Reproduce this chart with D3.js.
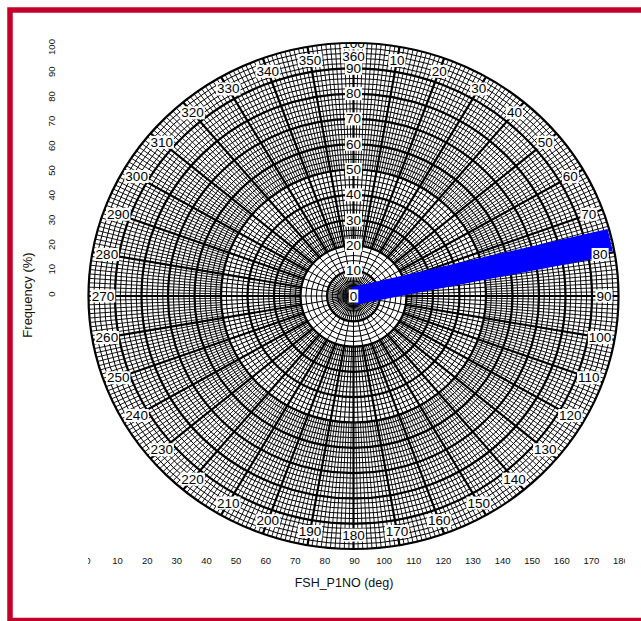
<!DOCTYPE html>
<html><head><meta charset="utf-8">
<script src="https://cdn.jsdelivr.net/npm/d3@7"></script>
<style>body{margin:0;background:#fff}svg{display:block}</style>
</head><body>
<script>
// ---- data ----
const radialTicks = [0,10,20,30,40,50,60,70,80,90,100];
const angleTicks = [10,20,30,40,50,60,70,80,90,100,110,120,130,140,150,160,170,180,190,200,210,220,230,240,250,260,270,280,290,300,310,320,330,340,350,360];
const xAxisTicks = [0,10,20,30,40,50,60,70,80,90,100,110,120,130,140,150,160,170,180];
const yAxisTicks = [0,10,20,30,40,50,60,70,80,90,100];
const binStart = [76.6,77.6];
const binEnd   = [77.6,78.6];
const binFreq  = [96,94];
const xTitle = "FSH_P1NO (deg)";
const yTitle = "Frequency (%)";

// ---- layout ----
const W = 641, H = 621;
const cx = 353.5, cy = 296, Ry = 253, Rx = 265;
const svg = d3.select('body').append('svg').attr('width', W).attr('height', H)
  .style('font-family', '"Liberation Sans", Arial, sans-serif');
svg.append('rect').attr('width', W).attr('height', H).attr('fill', '#fff');

// background cartesian axes (faint)
const xS = d3.scaleLinear().domain([0,180]).range([88,621]);
const yS = d3.scaleLinear().domain([0,100]).range([294,47]);
const defs = svg.append('defs');
defs.append('clipPath').attr('id','xclip').append('rect').attr('x',88).attr('y',540).attr('width',537).attr('height',40);
defs.append('clipPath').attr('id','topclip').append('rect').attr('x',0).attr('y',44).attr('width',W).attr('height',H);

svg.append('g').attr('clip-path','url(#xclip)').selectAll('text').data(xAxisTicks).join('text')
  .attr('x', d => xS(d)).attr('y', 563.5).attr('text-anchor','middle')
  .attr('font-size', 9.5).attr('fill', '#111').text(d => d);
svg.append('g').selectAll('text').data(yAxisTicks).join('text')
  .attr('transform', d => `translate(55,${yS(d)}) rotate(-90)`).attr('text-anchor','middle')
  .attr('font-size', 9.5).attr('fill', '#111').text(d => d);
svg.append('text').attr('transform', `translate(32,295) rotate(-90)`).attr('text-anchor','middle')
  .attr('font-size', 13).attr('fill','#111').text(yTitle);
svg.append('text').attr('x', 344).attr('y', 587).attr('text-anchor','middle')
  .attr('font-size', 12.5).attr('fill','#111').text(xTitle);

// ---- polar plot ----
const r = d3.scaleLinear().domain([0,100]).range([0,Ry]);
const ang = d3.scaleLinear().domain([0,360]).range([0,2*Math.PI]);
const g = svg.append('g').attr('transform', `translate(${cx},${cy}) scale(${Rx/Ry},1)`);
g.append('circle').attr('r', Ry).attr('fill','#fff');

const gridG = g.append('g').attr('stroke','#000').attr('fill','none');
function spokes(step, r0, r1, w) {
  const as = d3.range(0, 360, step);
  gridG.append('g').selectAll('line').data(as).join('line')
    .attr('x1', d => r(r0)*Math.sin(ang(d))).attr('y1', d => -r(r0)*Math.cos(ang(d)))
    .attr('x2', d => r(r1)*Math.sin(ang(d))).attr('y2', d => -r(r1)*Math.cos(ang(d)))
    .attr('stroke-width', w).attr('vector-effect','non-scaling-stroke');
}
// thin circles every 2 %
gridG.append('g').selectAll('circle').data(d3.range(2,100,2)).join('circle')
  .attr('r', d => r(d)).attr('stroke-width', 1).attr('vector-effect','non-scaling-stroke');
spokes(5, 1, 10, 1);
spokes(10, 10, 20, 1);
spokes(2, 20, 50, 1);
spokes(1, 50, 100, 0.9);
// thick
gridG.append('g').selectAll('circle').data(d3.range(10,101,10)).join('circle')
  .attr('r', d => r(d)).attr('stroke-width', 2.2).attr('vector-effect','non-scaling-stroke');
spokes(10, 20, 100, 2.2);

// wedge bars
const arc = d3.arc();
g.append('g').selectAll('path').data(binFreq).join('path')
  .attr('d', (d,i) => arc({innerRadius:0, outerRadius:r(d), startAngle:ang(binStart[i]), endAngle:ang(binEnd[i])}))
  .attr('fill','#0000ff').attr('stroke','#0000ff').attr('stroke-width',18).attr('stroke-linejoin','miter')
  .attr('stroke-miterlimit', 1.5).attr('vector-effect','non-scaling-stroke');

// angle labels
const lab = svg.append('g');
function boxLabel(parent, x, y, t, fs) {
  const gg = parent.append('g');
  const tx = gg.append('text').attr('x', x).attr('y', y).attr('text-anchor','middle')
    .attr('dominant-baseline','central').attr('font-size', fs).attr('fill','#000').text(t);
  const bb = tx.node().getBBox();
  gg.insert('rect','text').attr('x', bb.x-1).attr('y', bb.y+1).attr('width', bb.width+2).attr('height', bb.height-2).attr('fill','#fff');
}
angleTicks.forEach(d => {
  const rr = 0.945;
  boxLabel(lab, cx + Rx*rr*Math.sin(ang(d)), cy - Ry*rr*Math.cos(ang(d)), d, 13.5);
});
const rlab = svg.append('g').attr('clip-path','url(#topclip)');
radialTicks.forEach(d => boxLabel(rlab, cx, cy - r(d), d, 13.5));

// red frame
svg.append('rect').attr('x', 10).attr('y', 10).attr('width', 700).attr('height', 610.5)
  .attr('fill','none').attr('stroke','#c4002a').attr('stroke-width', 5.5);
</script>
</body></html>
